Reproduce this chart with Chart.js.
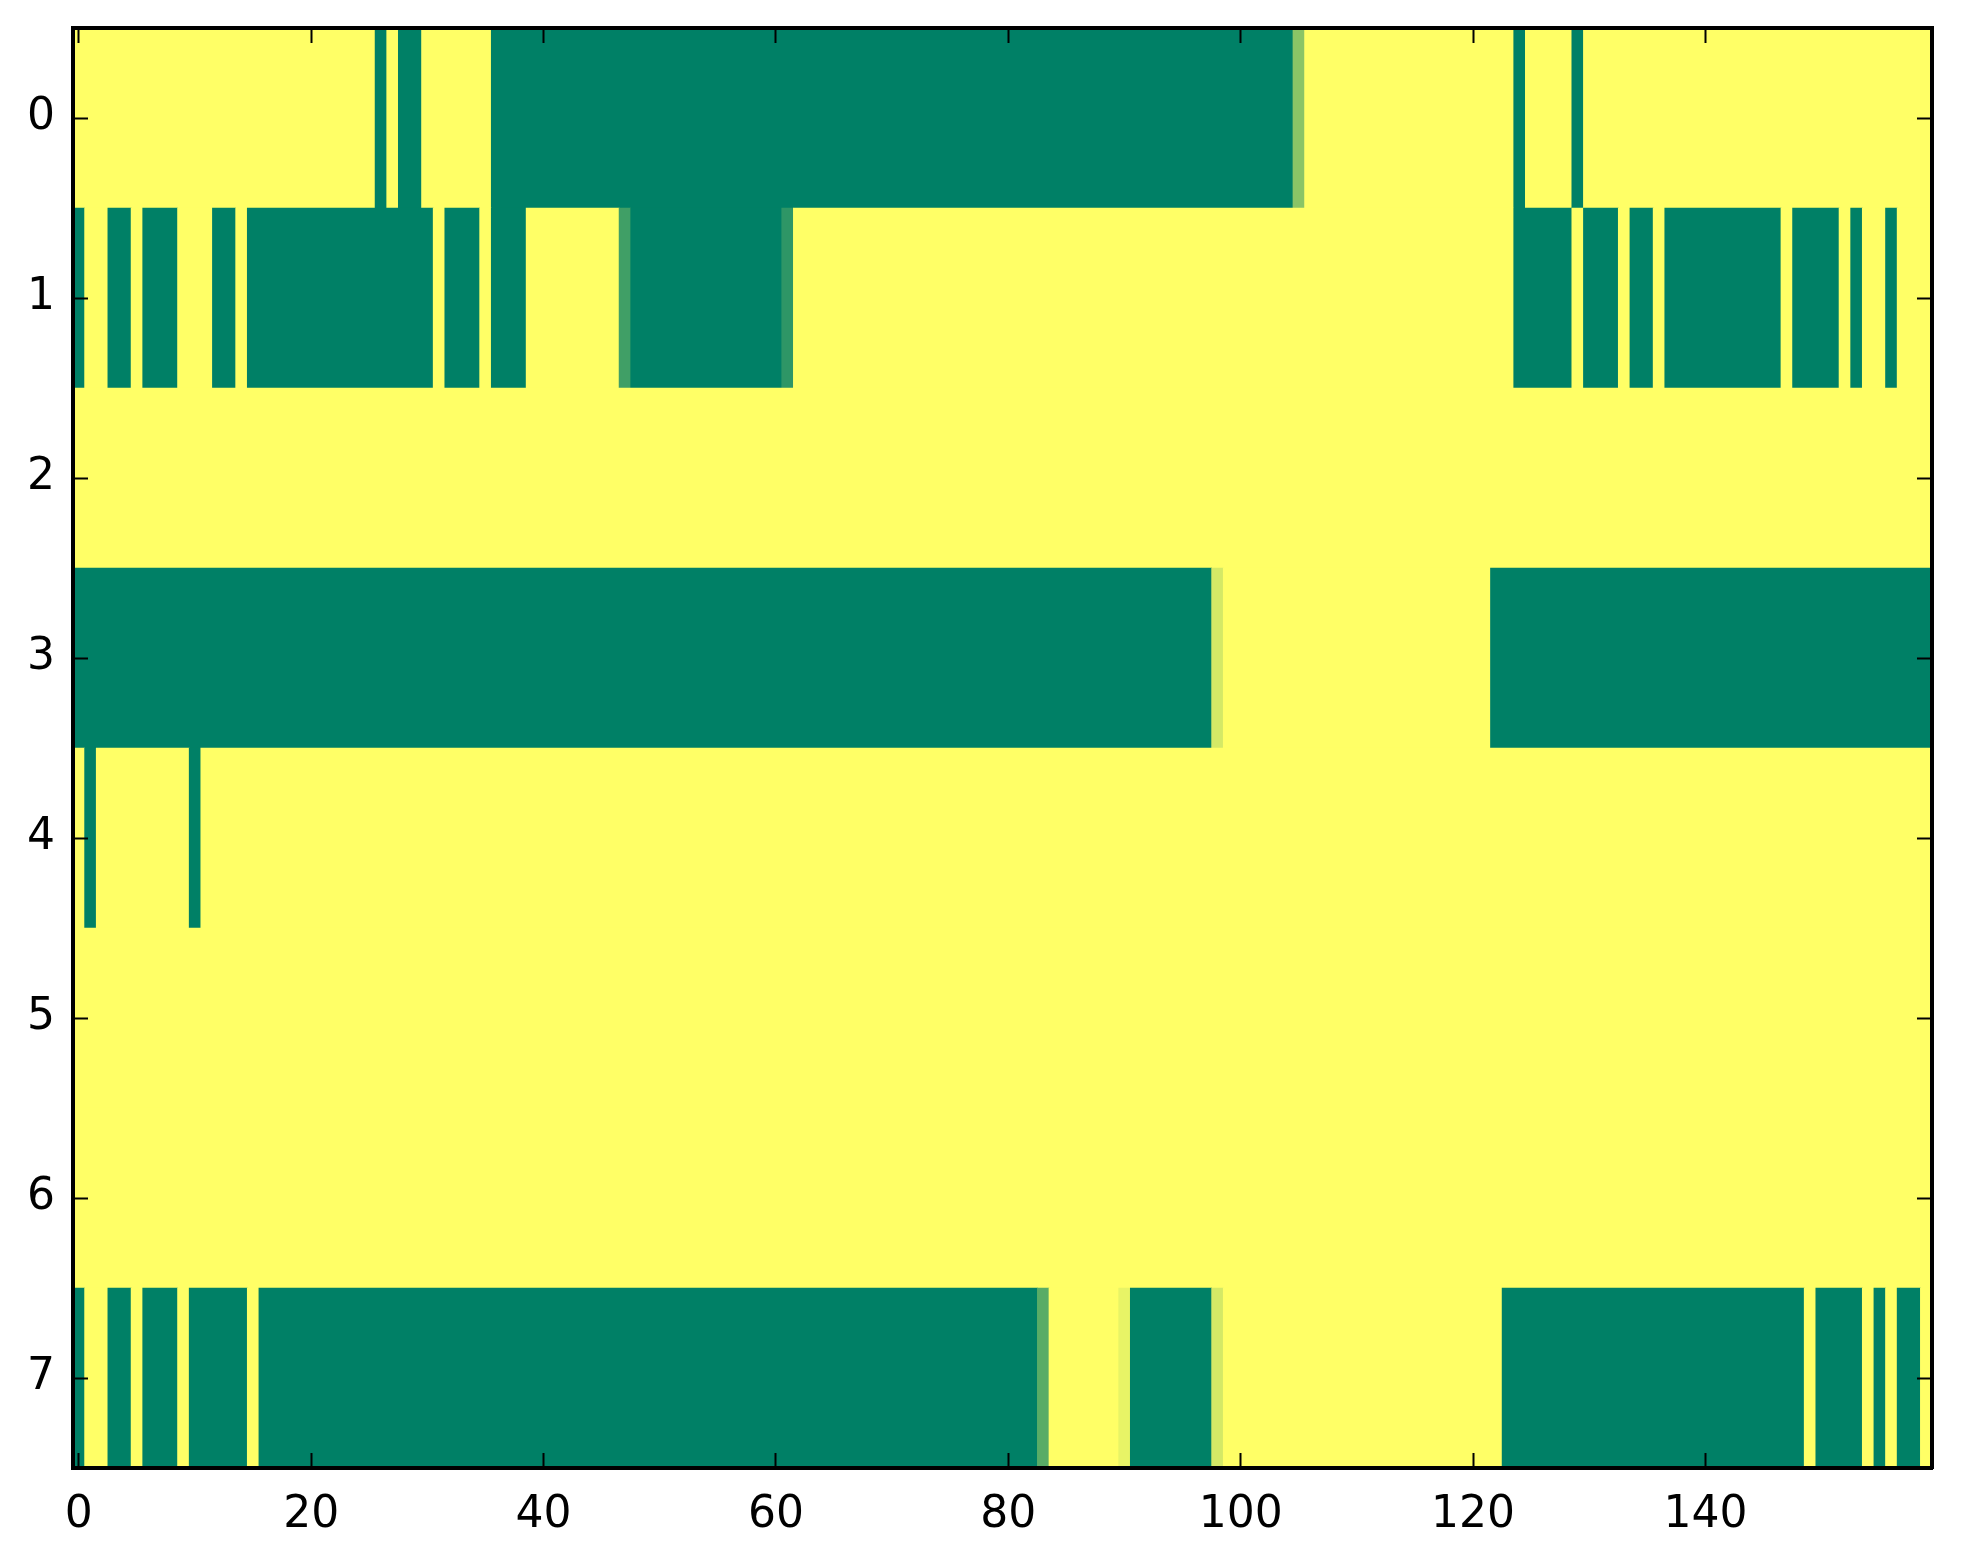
<!DOCTYPE html>
<html>
<head>
<meta charset="utf-8">
<title>heatmap</title>
<script src="https://cdn.jsdelivr.net/npm/chart.js@4.4.0/dist/chart.umd.min.js"></script>
<style>
  html, body { margin: 0; padding: 0; background: #fff; overflow: hidden; }
  canvas { display: block; }
</style>
</head>
<body>
<canvas id="canvasHeat" width="1963" height="1564" style="width:1963px;height:1564px"></canvas>
<script>
// axis labels
const rowLabels = ['0', '1', '2', '3', '4', '5', '6', '7'];
const xTicks = [0, 20, 40, 60, 80, 100, 120, 140];

// cell values, 160 columns per row (0 = green, 1 = yellow)
const row0 = [
  1,1,1,1,1,1,1,1,1,1,1,1,1,1,1,1,1,1,1,1,
  1,1,1,1,1,1,0,1,0,0,1,1,1,1,1,1,0,0,0,0,
  0,0,0,0,0,0,0,0,0,0,0,0,0,0,0,0,0,0,0,0,
  0,0,0,0,0,0,0,0,0,0,0,0,0,0,0,0,0,0,0,0,
  0,0,0,0,0,0,0,0,0,0,0,0,0,0,0,0,0,0,0,0,
  0,0,0,0,0,0.54,1,1,1,1,1,1,1,1,1,1,1,1,1,1,
  1,1,1,1,0,1,1,1,1,0,1,1,1,1,1,1,1,1,1,1,
  1,1,1,1,1,1,1,1,1,1,1,1,1,1,1,1,1,1,1,1
];
const row1 = [
  0,1,1,0,0,1,0,0,0,1,1,1,0,0,1,0,0,0,0,0,
  0,0,0,0,0,0,0,0,0,0,0,1,0,0,0,1,0,0,0,1,
  1,1,1,1,1,1,1,0.25,0,0,0,0,0,0,0,0,0,0,0,0,
  0,0.18,1,1,1,1,1,1,1,1,1,1,1,1,1,1,1,1,1,1,
  1,1,1,1,1,1,1,1,1,1,1,1,1,1,1,1,1,1,1,1,
  1,1,1,1,1,1,1,1,1,1,1,1,1,1,1,1,1,1,1,1,
  1,1,1,1,0,0,0,0,0,1,0,0,0,1,0,0,1,0,0,0,
  0,0,0,0,0,0,0,1,0,0,0,0,1,0,1,1,0,1,1,1
];
const row2 = [
  1,1,1,1,1,1,1,1,1,1,1,1,1,1,1,1,1,1,1,1,
  1,1,1,1,1,1,1,1,1,1,1,1,1,1,1,1,1,1,1,1,
  1,1,1,1,1,1,1,1,1,1,1,1,1,1,1,1,1,1,1,1,
  1,1,1,1,1,1,1,1,1,1,1,1,1,1,1,1,1,1,1,1,
  1,1,1,1,1,1,1,1,1,1,1,1,1,1,1,1,1,1,1,1,
  1,1,1,1,1,1,1,1,1,1,1,1,1,1,1,1,1,1,1,1,
  1,1,1,1,1,1,1,1,1,1,1,1,1,1,1,1,1,1,1,1,
  1,1,1,1,1,1,1,1,1,1,1,1,1,1,1,1,1,1,1,1
];
const row3 = [
  0,0,0,0,0,0,0,0,0,0,0,0,0,0,0,0,0,0,0,0,
  0,0,0,0,0,0,0,0,0,0,0,0,0,0,0,0,0,0,0,0,
  0,0,0,0,0,0,0,0,0,0,0,0,0,0,0,0,0,0,0,0,
  0,0,0,0,0,0,0,0,0,0,0,0,0,0,0,0,0,0,0,0,
  0,0,0,0,0,0,0,0,0,0,0,0,0,0,0,0,0,0,0.83,1,
  1,1,1,1,1,1,1,1,1,1,1,1,1,1,1,1,1,1,1,1,
  1,1,0,0,0,0,0,0,0,0,0,0,0,0,0,0,0,0,0,0,
  0,0,0,0,0,0,0,0,0,0,0,0,0,0,0,0,0,0,0,0
];
const row4 = [
  1,0,1,1,1,1,1,1,1,1,0,1,1,1,1,1,1,1,1,1,
  1,1,1,1,1,1,1,1,1,1,1,1,1,1,1,1,1,1,1,1,
  1,1,1,1,1,1,1,1,1,1,1,1,1,1,1,1,1,1,1,1,
  1,1,1,1,1,1,1,1,1,1,1,1,1,1,1,1,1,1,1,1,
  1,1,1,1,1,1,1,1,1,1,1,1,1,1,1,1,1,1,1,1,
  1,1,1,1,1,1,1,1,1,1,1,1,1,1,1,1,1,1,1,1,
  1,1,1,1,1,1,1,1,1,1,1,1,1,1,1,1,1,1,1,1,
  1,1,1,1,1,1,1,1,1,1,1,1,1,1,1,1,1,1,1,1
];
const row5 = [
  1,1,1,1,1,1,1,1,1,1,1,1,1,1,1,1,1,1,1,1,
  1,1,1,1,1,1,1,1,1,1,1,1,1,1,1,1,1,1,1,1,
  1,1,1,1,1,1,1,1,1,1,1,1,1,1,1,1,1,1,1,1,
  1,1,1,1,1,1,1,1,1,1,1,1,1,1,1,1,1,1,1,1,
  1,1,1,1,1,1,1,1,1,1,1,1,1,1,1,1,1,1,1,1,
  1,1,1,1,1,1,1,1,1,1,1,1,1,1,1,1,1,1,1,1,
  1,1,1,1,1,1,1,1,1,1,1,1,1,1,1,1,1,1,1,1,
  1,1,1,1,1,1,1,1,1,1,1,1,1,1,1,1,1,1,1,1
];
const row6 = [
  1,1,1,1,1,1,1,1,1,1,1,1,1,1,1,1,1,1,1,1,
  1,1,1,1,1,1,1,1,1,1,1,1,1,1,1,1,1,1,1,1,
  1,1,1,1,1,1,1,1,1,1,1,1,1,1,1,1,1,1,1,1,
  1,1,1,1,1,1,1,1,1,1,1,1,1,1,1,1,1,1,1,1,
  1,1,1,1,1,1,1,1,1,1,1,1,1,1,1,1,1,1,1,1,
  1,1,1,1,1,1,1,1,1,1,1,1,1,1,1,1,1,1,1,1,
  1,1,1,1,1,1,1,1,1,1,1,1,1,1,1,1,1,1,1,1,
  1,1,1,1,1,1,1,1,1,1,1,1,1,1,1,1,1,1,1,1
];
const row7 = [
  0,1,1,0,0,1,0,0,0,1,0,0,0,0,0,1,0,0,0,0,
  0,0,0,0,0,0,0,0,0,0,0,0,0,0,0,0,0,0,0,0,
  0,0,0,0,0,0,0,0,0,0,0,0,0,0,0,0,0,0,0,0,
  0,0,0,0,0,0,0,0,0,0,0,0,0,0,0,0,0,0,0,0,
  0,0,0,0.35,1,1,1,1,1,1,0.91,0,0,0,0,0,0,0,0.83,1,
  1,1,1,1,1,1,1,1,1,1,1,1,1,1,1,1,1,1,1,1,
  1,1,1,0,0,0,0,0,0,0,0,0,0,0,0,0,0,0,0,0,
  0,0,0,0,0,0,0,0,0,1,0,0,0,0,1,0,1,0,0,1
];
const rows = [row0, row1, row2, row3, row4, row5, row6, row7];

// matplotlib "summer" colormap
function summer(v) {
  const r = Math.round(255 * v);
  const g = Math.round(255 * (0.5 + v / 2));
  const b = Math.round(255 * 0.4);
  return `rgb(${r}, ${g}, ${b})`;
}

// join equal neighbouring cells into one floating bar
function buildCells() {
  const cells = [];
  const colors = [];
  rows.forEach((row, r) => {
    let start = 0;
    for (let c = 1; c <= row.length; c++) {
      if (c === row.length || row[c] !== row[start]) {
        cells.push({ y: rowLabels[r], x: [start - 0.5, c - 0.5] });
        colors.push(summer(row[start]));
        start = c;
      }
    }
  });
  return { cells, colors };
}

function setXTicks(scale) {
  scale.ticks = xTicks.map(v => ({ value: v }));
}

// fixed axis sizes, no extra room for overhanging labels
function fixSize(w, h) {
  return (s) => {
    if (w !== null) s.width = w;
    if (h !== null) s.height = h;
    s.paddingTop = 0;
    s.paddingBottom = 0;
    s.paddingLeft = 0;
    s.paddingRight = 0;
  };
}

function chartHeat() {
  const { cells, colors } = buildCells();
  const nCols = row0.length;

  Chart.defaults.font.family = "'DejaVu Sans', sans-serif";
  Chart.defaults.font.size = 44;
  Chart.defaults.color = '#000';

  // ticks point inward, frame on all four sides
  const tickGrid = {
    drawOnChartArea: false, drawTicks: true, tickLength: -15,
    tickWidth: 2, tickColor: '#000', offset: false, z: 1
  };
  const frame = { display: true, color: '#000', width: 4, z: 1 };

  const ctx = document.getElementById('canvasHeat').getContext('2d');
  new Chart(ctx, {
    type: 'bar',
    data: {
      labels: rowLabels,
      datasets: [{
        data: cells,
        backgroundColor: colors,
        borderWidth: 0,
        barPercentage: 1,
        categoryPercentage: 1
      }]
    },
    options: {
      indexAxis: 'y',
      responsive: false,
      animation: false,
      events: [],
      layout: { padding: 0, autoPadding: false },
      plugins: { legend: { display: false }, tooltip: { enabled: false } },
      scales: {
        x: {
          type: 'linear', position: 'bottom', min: -0.5, max: nCols - 0.5, bounds: 'data',
          grid: tickGrid, border: frame,
          ticks: { padding: 36, maxRotation: 0, autoSkip: false },
          afterBuildTicks: setXTicks,
          afterFit: fixSize(null, 96)
        },
        x2: {
          type: 'linear', position: 'top', min: -0.5, max: nCols - 0.5, bounds: 'data',
          grid: tickGrid, border: frame,
          ticks: { display: false },
          afterBuildTicks: setXTicks,
          afterFit: fixSize(null, 28)
        },
        y: {
          type: 'category', position: 'left', offset: true,
          grid: tickGrid, border: frame,
          ticks: { padding: 33 },
          afterFit: fixSize(73, null)
        },
        y2: {
          type: 'category', position: 'right', offset: true,
          grid: tickGrid, border: frame,
          ticks: { display: false },
          afterFit: fixSize(31, null)
        }
      }
    }
  });
}

chartHeat();
</script>
</body>
</html>
